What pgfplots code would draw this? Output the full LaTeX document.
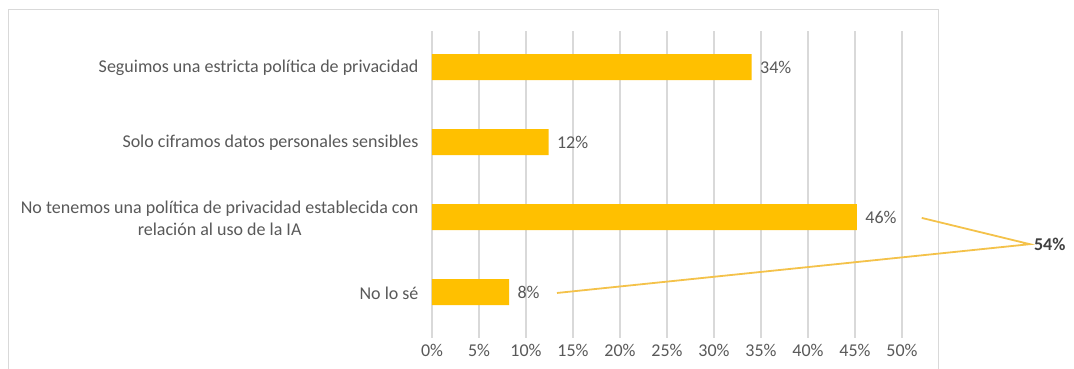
\documentclass[border=0pt]{standalone}
\usepackage{pgfplots}
\pgfplotsset{compat=1.18}
\usepackage{fontspec}
\setmainfont{Carlito}
\definecolor{barc}{HTML}{FFC000}
\definecolor{gridc}{HTML}{D9D9D9}
\definecolor{txt}{HTML}{595959}
\definecolor{callc}{HTML}{F4C24A}
\begin{document}
\begin{tikzpicture}[x=1pt,y=1pt]
\fill[white] (0,0) rectangle (1074,368);
\draw[gridc, line width=1pt] (8,-10) rectangle (938,359);
\begin{axis}[
 at={(432pt,30pt)}, anchor=south west,
 scale only axis, width=470pt, height=307pt,
 xbar, bar width=26pt,
 xmin=0, xmax=50, ymin=-0.48, ymax=3.61, y dir=reverse,
 xtick={0,5,10,15,20,25,30,35,40,45,50},
 xticklabels={0\%,5\%,10\%,15\%,20\%,25\%,30\%,35\%,40\%,45\%,50\%},
 ytick={0,1,2,3},
 yticklabels={Seguimos una estricta política de privacidad,Solo ciframos datos personales sensibles,{No tenemos una política de privacidad establecida con\\relación al uso de la IA},No lo sé},
 xmajorgrids, grid style={gridc, line width=1.2pt},
 axis line style={draw=none}, major tick length=0,
 tick label style={font=\fontsize{18}{22}\selectfont, text=txt},
 yticklabel style={align=center, xshift=-10pt, yshift=-1pt},
 xticklabel style={yshift=-3pt},
 clip=false,
]
\addplot[fill=barc, draw=none, point meta=explicit,
  nodes near coords={\pgfmathprintnumber[assume math mode=true]{\pgfplotspointmeta}\%},
  nodes near coords style={font=\fontsize{18}{22}\selectfont, text=txt, anchor=west, xshift=5pt}]
 table[x=x, y=y, meta=m] {
x y m
34.0 0 34
12.4 1 12
45.2 2 46
8.2 3 8
};
\draw[callc, line width=1.8pt] (axis cs:52.1,2.01) -- (axis cs:63.6,2.36) -- (axis cs:13.3,3.01);
\node[anchor=west, font=\bfseries\fontsize{18}{22}\selectfont, text=black!75, inner sep=4pt] at (axis cs:63.6,2.36) {54\%};
\end{axis}
\pgfresetboundingbox
\useasboundingbox (0,0) rectangle (1074,368);
\end{tikzpicture}
\end{document}
